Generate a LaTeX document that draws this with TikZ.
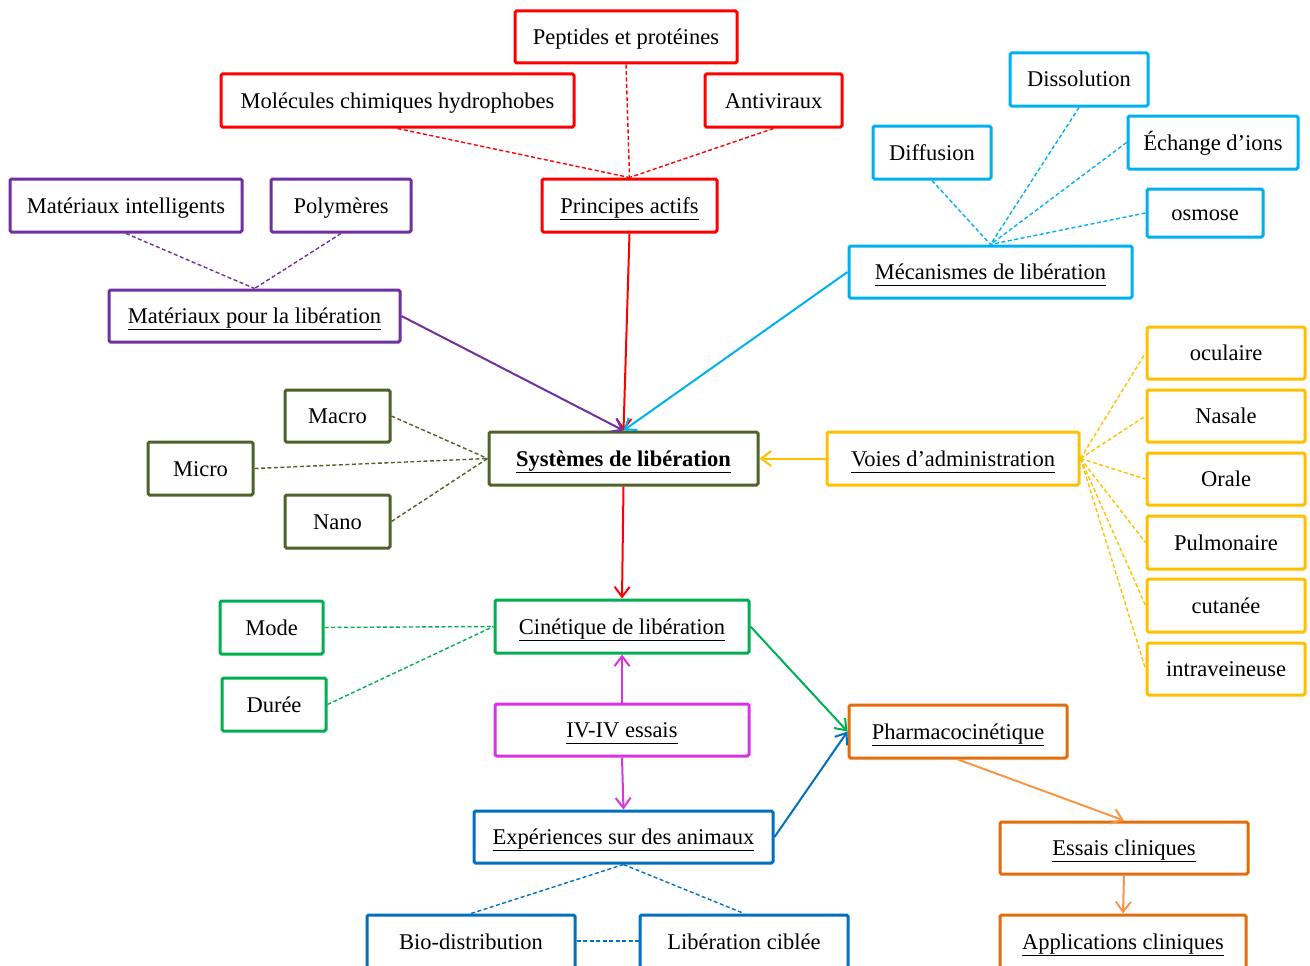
\documentclass[tikz,border=0pt]{standalone}
\usepackage{fontspec}
\setmainfont{Liberation Serif}
\usetikzlibrary{arrows.meta}
\definecolor{cred}{RGB}{255,0,0}
\definecolor{cpur}{RGB}{112,48,160}
\definecolor{ccyan}{RGB}{0,176,240}
\definecolor{colive}{RGB}{79,98,40}
\definecolor{cgold}{RGB}{255,192,0}
\definecolor{cgreen}{RGB}{0,176,80}
\definecolor{cmag}{RGB}{217,50,230}
\definecolor{cblue}{RGB}{0,112,192}
\definecolor{corange}{RGB}{228,108,10}
\definecolor{clorange}{RGB}{247,150,70}
\newcommand{\myul}[1]{\underline{\vphantom{p}#1}}
\newcommand{\bx}[7]{\node[box,draw=#6,minimum width={#4-#2},minimum height={#5-#3}] (#1) at ({(#2+#4)/2},{(#3+#5)/2}) {#7};}
\tikzset{
  box/.style={rectangle,fill=white,line width=3pt,inner sep=0pt,rounded corners=1.5pt,
    text height=20pt,text depth=5pt,
    font=\fontsize{22.5}{26}\selectfont},
  arr/.style={line width=2pt,-{Straight Barb[length=10pt,width=15pt,line width=2pt]}},
  dsh/.style={line width=1.4pt,dash pattern=on 4pt off 2.5pt}
}
\begin{document}
\begin{tikzpicture}[x=1pt,y=-1pt]
\useasboundingbox (0,0) rectangle (1310,966);
\clip (0,0) rectangle (1310,966);
% red
\bx{pep}{515}{11}{737}{63}{cred}{Peptides et protéines}
\bx{mol}{221}{74}{574}{127}{cred}{Molécules chimiques hydrophobes}
\bx{anti}{705}{74}{842}{127}{cred}{Antiviraux}
\bx{pa}{542}{179}{717}{232}{cred}{\myul{Principes actifs}}
% purple
\bx{mi}{10}{179}{242}{232}{cpur}{Matériaux intelligents}
\bx{poly}{271}{179}{411}{232}{cpur}{Polymères}
\bx{mpl}{109}{290}{400}{342}{cpur}{\myul{Matériaux pour la libération}}
% cyan
\bx{diss}{1010}{53}{1148}{106}{ccyan}{Dissolution}
\bx{diff}{873}{126}{991}{179}{ccyan}{Diffusion}
\bx{ech}{1128}{116}{1298}{169}{ccyan}{Échange d’ions}
\bx{osm}{1147}{189}{1263}{237}{ccyan}{osmose}
\bx{mec}{849}{246}{1132}{298}{ccyan}{\myul{Mécanismes de libération}}
% olive
\bx{macro}{285}{390}{390}{442}{colive}{Macro}
\bx{micro}{148}{442}{253}{495}{colive}{Micro}
\bx{nano}{285}{495}{390}{548}{colive}{Nano}
\bx{sys}{489}{432}{758}{485}{colive}{\bfseries\myul{Systèmes de libération}}
% gold
\bx{voies}{827}{432}{1079}{485}{cgold}{\myul{Voies d’administration}}
\bx{ocu}{1147}{327}{1305}{379}{cgold}{oculaire}
\bx{nas}{1147}{390}{1305}{442}{cgold}{Nasale}
\bx{ora}{1147}{453}{1305}{505}{cgold}{Orale}
\bx{pul}{1147}{516}{1305}{569}{cgold}{Pulmonaire}
\bx{cut}{1147}{579}{1305}{632}{cgold}{cutanée}
\bx{ivn}{1147}{643}{1305}{695}{cgold}{intraveineuse}
% green
\bx{cin}{495}{600}{749}{653}{cgreen}{\myul{Cinétique de libération}}
\bx{mode}{220}{601}{323}{654}{cgreen}{Mode}
\bx{dur}{222}{678}{326}{731}{cgreen}{Durée}
% magenta
\bx{ivv}{495}{704}{749}{756}{cmag}{\myul{IV-IV essais}}
% blue
\bx{exp}{474}{811}{773}{863}{cblue}{\myul{Expériences sur des animaux}}
\bx{bio}{367}{915}{575}{968}{cblue}{Bio-distribution}
\bx{lib}{640}{915}{848}{968}{cblue}{Libération ciblée}
% orange
\bx{pk}{849}{705}{1067}{758}{corange}{\myul{Pharmacocinétique}}
\bx{ess}{1000}{822}{1248}{874}{corange}{\myul{Essais cliniques}}
\bx{app}{1000}{915}{1246}{968}{corange}{\myul{Applications cliniques}}

% connectors
\draw[dsh,cred] (mol.south) -- (pa.north);
\draw[dsh,cred] (pep.south) -- (pa.north);
\draw[dsh,cred] (anti.south) -- (pa.north);
\draw[arr,cred] (pa.south) -- (sys.north);

\draw[dsh,cpur] (mi.south) -- (mpl.north);
\draw[dsh,cpur] (poly.south) -- (mpl.north);
\draw[arr,cpur] (mpl.east) -- (sys.north);

\draw[dsh,ccyan] (diff.south) -- (mec.north);
\draw[dsh,ccyan] (diss.south) -- (mec.north);
\draw[dsh,ccyan] (ech.west) -- (mec.north);
\draw[dsh,ccyan] (osm.west) -- (mec.north);
\draw[arr,ccyan] (mec.west) -- (sys.north);

\draw[dsh,colive] (macro.east) -- (sys.west);
\draw[dsh,colive] (micro.east) -- (sys.west);
\draw[dsh,colive] (nano.east) -- (sys.west);

\draw[arr,cgold] (voies.west) -- (sys.east);
\foreach \t in {ocu,nas,ora,pul,cut,ivn}
  \draw[dsh,cgold] (voies.east) -- (\t.west);

\draw[arr,cred] (sys.south) -- (cin.north);
\draw[dsh,cgreen] (mode.east) -- (cin.west);
\draw[dsh,cgreen] (dur.east) -- (cin.west);
\draw[arr,cgreen] (cin.east) -- (pk.west);

\draw[arr,cmag] (ivv.north) -- (cin.south);
\draw[arr,cmag] (ivv.south) -- (exp.north);

\draw[arr,cblue] (exp.east) -- (pk.west);
\draw[dsh,cblue] (exp.south) -- (bio.north);
\draw[dsh,cblue] (exp.south) -- (lib.north);
\draw[dsh,draw=cblue,line width=2pt] ([yshift=0.5pt]bio.east) -- ([yshift=0.5pt]lib.west);

\draw[arr,clorange] (pk.south) -- (ess.north);
\draw[arr,clorange] (ess.south) -- (app.north);
\end{tikzpicture}
\end{document}
